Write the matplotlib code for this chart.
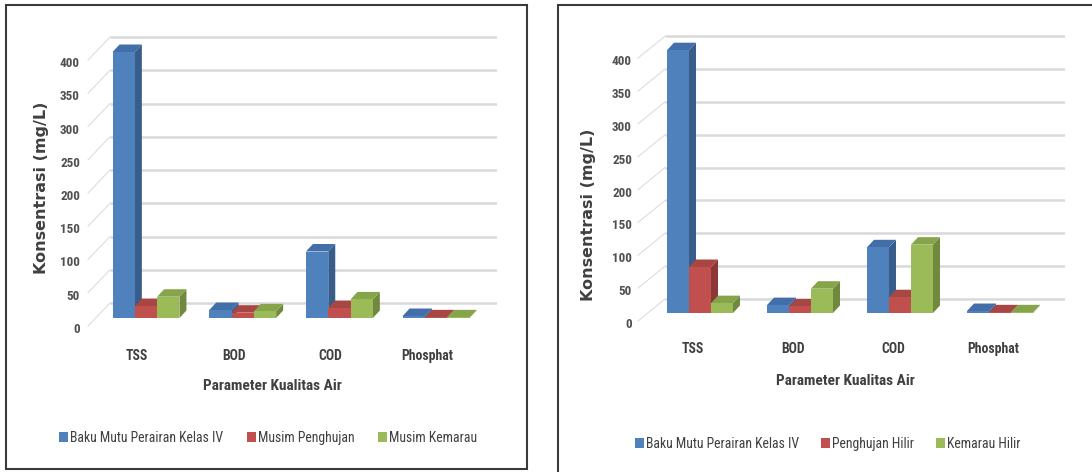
import matplotlib
matplotlib.use('Agg')
import matplotlib.pyplot as plt
from matplotlib import font_manager
from matplotlib.patches import Polygon, Rectangle
from matplotlib.transforms import offset_copy

W, H, DPI = 1092, 472, 100

# ---------------- data ----------------
categories = ['TSS', 'BOD', 'COD', 'Phosphat']
baku_mutu = [400, 12, 100, 3]
musim_penghujan = [18, 8, 15, 1]
musim_kemarau = [32, 10, 28, 1]
penghujan_hilir = [70, 10, 24, 1]
kemarau_hilir = [15, 37, 104, 1]
left_series_names = ['Baku Mutu Perairan Kelas IV', 'Musim Penghujan', 'Musim Kemarau']
right_series_names = ['Baku Mutu Perairan Kelas IV', 'Penghujan Hilir', 'Kemarau Hilir']
y_ticks = [0, 50, 100, 150, 200, 250, 300, 350, 400]
y_title = 'Konsentrasi (mg/L)'
x_title = 'Parameter Kualitas Air'

front_colors = ['#4F81BD', '#C0504D', '#9BBB59']
side_colors = ['#385D8A', '#8C3836', '#71893F']
top_colors = ['#426FA9', '#A84643', '#86A54B']

_avail = {f.name for f in font_manager.fontManager.ttflist}
_pref = ['Liberation Sans Narrow', 'Roboto Condensed', 'Open Sans Condensed', 'Lato',
         'Open Sans', 'DejaVu Sans']
FAM = [f for f in _pref if f in _avail] + ['DejaVu Sans']
FAM = FAM[:2] if FAM[0] != 'DejaVu Sans' else ['DejaVu Sans']
YFAM = ['DejaVu Sans']
TXT = '#404040'

fig = plt.figure(figsize=(W / DPI, H / DPI), dpi=DPI)
fig.patch.set_facecolor('white')
_rend = fig.canvas.get_renderer()


def fit(s, weight, target, fam=None, base=10.0):
    t = fig.text(0, 0, s, fontfamily=fam or FAM, fontweight=weight, fontsize=base)
    w = t.get_window_extent(renderer=_rend).width
    t.remove()
    return base * target / w


FS_TICK = fit('400', 'bold', 20)
FS_CAT = fit('Phosphat', 'bold', 52)
FS_TITLE = fit(x_title, 'bold', 140)
FS_YT = fit(y_title, 'bold', 172, fam=YFAM)
FS_LEG = fit('Baku Mutu Perairan Kelas IV', 'normal', 153)


def fx(px):
    return px / W


def fy(py):
    return 1 - py / H


def panel(series, names, cfg):
    L = cfg['wall_x'] - 2
    R = cfg['right_x']
    top_px = 26
    bot_px = cfg['base_y'] + 16
    ax = fig.add_axes([fx(L), fy(bot_px), (R - L) / W, (bot_px - top_px) / H])
    sp, ppu, c0 = cfg['spacing'], cfg['ppu'], cfg['c0']
    ax.set_xlim((L - c0) / sp, (R - c0) / sp)
    ax.set_ylim((cfg['base_y'] - bot_px) / ppu, (cfg['base_y'] - top_px) / ppu)
    ax.set_facecolor('none')
    for s in ax.spines.values():
        s.set_visible(False)

    back_off = cfg['back_off'] / ppu
    xb = (cfg['back_x'] - c0) / sp
    xw = (cfg['wall_x'] - c0) / sp
    xr = (R - c0) / sp
    for v in y_ticks:
        ax.plot([xb, xr], [v + back_off, v + back_off], color='#D9D9D9', lw=1.8,
                zorder=0, solid_capstyle='butt')
        ax.plot([xw, xb], [v - 8 / ppu, v + back_off], color='#DDDDDD', lw=0.8, zorder=0)

    bw = cfg['bar_w'] / sp
    ddx = cfg['dx'] / sp
    ddy = cfg['dy'] / ppu
    handles = []
    for j, vals in enumerate(series):
        xs = [i + (j - 1) * bw for i in range(len(categories))]
        bars = ax.bar(xs, vals, width=bw, color=front_colors[j], edgecolor='none',
                      zorder=4 + 3 * j, label=names[j])
        handles.append(bars)
        for rect in bars:
            x0 = rect.get_x()
            x1 = x0 + rect.get_width()
            h = rect.get_height()
            ax.add_patch(Polygon([(x1, 0), (x1 + ddx, ddy), (x1 + ddx, h + ddy), (x1, h)],
                                 closed=True, fc=side_colors[j], ec='none', zorder=2 + 3 * j))
            ax.add_patch(Polygon([(x0, h), (x0 + ddx, h + ddy), (x1 + ddx, h + ddy), (x1, h)],
                                 closed=True, fc=top_colors[j], ec='none', zorder=3 + 3 * j))

    # y tick labels
    ax.set_yticks(y_ticks)
    ax.set_yticklabels([str(v) for v in y_ticks])
    ax.tick_params(axis='y', length=0, pad=(L - cfg['tick_right']) * 72 / DPI)
    for lab in ax.get_yticklabels():
        lab.set_fontfamily(FAM)
        lab.set_fontsize(FS_TICK)
        lab.set_fontweight('bold')
        lab.set_color('#505050')
        lab.set_transform(offset_copy(lab.get_transform(), fig=fig, x=0,
                                      y=-cfg['label_off'], units='dots'))
    # x tick labels
    ax.set_xticks(range(len(categories)))
    ax.set_xticklabels(categories)
    ax.tick_params(axis='x', length=0, pad=(cfg['cat_y'] - 8 - bot_px) * 72 / DPI)
    for lab in ax.get_xticklabels():
        lab.set_fontfamily(FAM)
        lab.set_fontsize(FS_CAT)
        lab.set_fontweight('bold')
        lab.set_color(TXT)
        lab.set_transform(offset_copy(lab.get_transform(), fig=fig, x=cfg['cat_dx'],
                                      y=0, units='dots'))

    fig.text(fx(cfg['title_x']), fy(cfg['title_y']), x_title, ha='center', va='center',
             fontfamily=FAM, fontsize=FS_TITLE, fontweight='bold', color=TXT)
    fig.text(fx(cfg['ylab_x']), fy(cfg['ylab_y']), y_title, ha='center', va='center',
             rotation=90, fontfamily=YFAM, fontsize=FS_YT,
             fontweight='bold', color=TXT)

    fs_px = FS_LEG * DPI / 72
    ax.legend(handles=handles, labels=names, loc='center',
              bbox_to_anchor=(fx(cfg['leg_x']), fy(cfg['leg_y'])),
              bbox_transform=fig.transFigure, ncol=3, frameon=False,
              handlelength=9 / fs_px, handleheight=10 / fs_px, handletextpad=2 / fs_px,
              columnspacing=cfg['leg_gap'] / fs_px, borderpad=0, borderaxespad=0,
              prop={'family': FAM, 'size': FS_LEG}, labelcolor=TXT)
    return ax


left_cfg = dict(wall_x=88, back_x=110, right_x=497, base_y=318, ppu=0.665, c0=146,
                spacing=96.7, bar_w=22.3, dx=7, dy=7.5, back_off=15, label_off=10,
                tick_right=80, ylab_x=42, ylab_y=188, cat_y=357, cat_dx=-9,
                title_x=272, title_y=386, leg_x=268, leg_y=438, leg_gap=24)
right_cfg = dict(wall_x=638, back_x=665, right_x=1065, base_y=313, ppu=0.657, c0=700,
                 spacing=100, bar_w=22, dx=7, dy=7.5, back_off=14, label_off=10,
                 tick_right=632, ylab_x=588, ylab_y=215, cat_y=350, cat_dx=-7,
                 title_x=845, title_y=381, leg_x=828, leg_y=444, leg_gap=22)

panel([baku_mutu, musim_penghujan, musim_kemarau], left_series_names, left_cfg)
panel([baku_mutu, penghujan_hilir, kemarau_hilir], right_series_names, right_cfg)

# panel frames
fig.add_artist(Rectangle((fx(6), fy(469)), (527 - 6) / W, (469 - 5) / H,
                         transform=fig.transFigure, fill=False, ec='#3A3A3A', lw=1.5))
fig.add_artist(Rectangle((fx(558), fy(480)), 600 / W, (480 - 5) / H,
                         transform=fig.transFigure, fill=False, ec='#3A3A3A', lw=1.5))

fig.savefig('out.png', dpi=DPI, facecolor='white')
